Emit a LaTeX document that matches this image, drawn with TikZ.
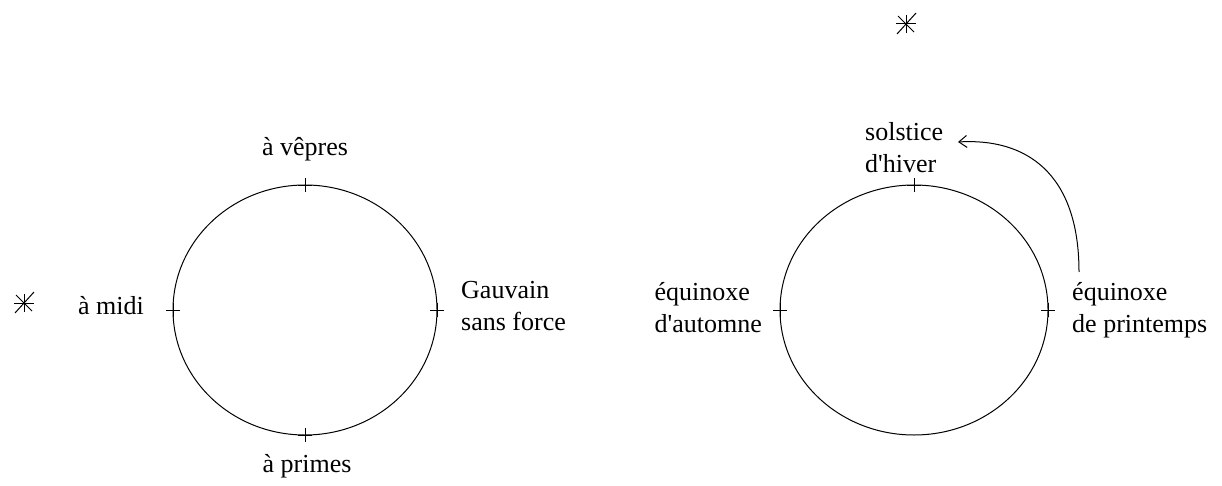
\documentclass[tikz,border=0pt]{standalone}
\usepackage{fontspec}
\setmainfont{Liberation Serif}
\usetikzlibrary{arrows.meta}
\begin{document}
\begin{tikzpicture}[x=1pt,y=-1pt,
  lbl/.style={inner sep=0pt, font=\fontsize{26}{32}\selectfont, align=left},
  circ/.style={line width=1pt},
  tick/.style={line width=0.9pt},
  starline/.style={line width=1pt}]
\useasboundingbox (0,0) rectangle (1222,486);
% left ellipse
\coordinate (L) at (305,310);
\draw[circ] (L) ellipse [x radius=132, y radius=125];
\coordinate (Lt) at (305,185);
\coordinate (Lb) at (305,435);
\coordinate (Ll) at (173,310);
\coordinate (Lr) at (437,310);
\foreach \p in {Lt,Lb,Ll,Lr}{
  \draw[tick] ([xshift=-7]\p) -- ([xshift=7]\p);
  \draw[tick] ([yshift=-7]\p) -- ([yshift=7]\p);
}
% right ellipse
\coordinate (R) at (914,310);
\draw[circ] (R) ellipse [x radius=134, y radius=125];
\coordinate (Rt) at (914,185);
\coordinate (Rl) at (780,310);
\coordinate (Rr) at (1048,310);
\foreach \p in {Rt,Rl,Rr}{
  \draw[tick] ([xshift=-7]\p) -- ([xshift=7]\p);
  \draw[tick] ([yshift=-7]\p) -- ([yshift=7]\p);
}
% labels
\node[lbl] (vepres) at (305,149) {à vêpres};
\node[lbl] (primes) at (307,466) {à primes};
\node[lbl, anchor=east] (midi) at (144,306) {à midi};
\node[lbl, anchor=west] (gauvain) at (461,306) {Gauvain\\sans force};
\node[lbl, anchor=west] (solstice) at (865,148) {solstice\\d\textquotesingle hiver};
\node[lbl, anchor=east] (automne) at (762,308) {équinoxe\\d\textquotesingle automne};
\node[lbl, anchor=west] (printemps) at (1072,310) {équinoxe\\de printemps};
% stars
\coordinate (s1) at (24,303);
\coordinate (s2) at (906,24);
\foreach \n in {s1,s2}{
  \draw[starline] ([xshift=-10]\n) -- ([xshift=10]\n);
  \draw[starline] ([yshift=-9]\n) -- ([yshift=9]\n);
  \draw[starline] ([shift={(-8,-8)}]\n) -- ([shift={(8,8)}]\n);
  \draw[starline] ([shift={(-9,10)}]\n) -- ([shift={(10,-11)}]\n);
}
% arrow
\coordinate (astart) at (1079,272);
\coordinate (aend) at (958,142);
\draw[line width=1pt, -{Straight Barb[length=8pt,width=12pt]}] (astart) .. controls (1079,172) and (1025,138) .. (aend);
\end{tikzpicture}
\end{document}
